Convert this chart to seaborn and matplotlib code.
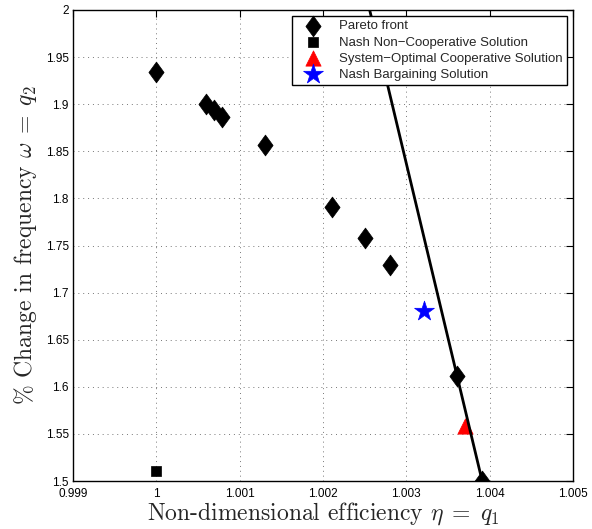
import numpy as np
import pandas as pd
import matplotlib
matplotlib.use("Agg")
import matplotlib.pyplot as plt
from matplotlib.path import Path
import seaborn as sns

# ---- data ----
pareto_x = [1.0000, 1.000597, 1.000693, 1.000789, 1.001305, 1.002109, 1.002505, 1.002805, 1.00361, 1.00391]
pareto_y = [1.934, 1.900, 1.894, 1.886, 1.857, 1.791, 1.758, 1.729, 1.611, 1.500]
nash_nc_x = [1.0000]
nash_nc_y = [1.511]
sys_opt_x = [1.003706]
sys_opt_y = [1.558]
nash_bs_x = [1.003214]
nash_bs_y = [1.680]
line_x = [1.00256, 1.00391]
line_y = [2.0, 1.5]
xticks = [0.999, 1.0, 1.001, 1.002, 1.003, 1.004, 1.005]
xtick_labels = ["0.999", "1", "1.001", "1.002", "1.003", "1.004", "1.005"]
yticks = [1.5, 1.55, 1.6, 1.65, 1.7, 1.75, 1.8, 1.85, 1.9, 1.95, 2.0]
ytick_labels = ["1.5", "1.55", "1.6", "1.65", "1.7", "1.75", "1.8", "1.85", "1.9", "1.95", "2"]
legend_labels = ["Pareto front", "Nash Non\u2212Cooperative Solution",
                 "System\u2212Optimal Cooperative Solution", "Nash Bargaining Solution"]

sns.set_style("white")
plt.rcParams["mathtext.fontset"] = "cm"
plt.rcParams["font.family"] = ["Liberation Sans", "DejaVu Sans"]

fig = plt.figure(figsize=(5.92, 5.29), dpi=100)
ax = fig.add_axes([73/592, 1 - 481/529, 500/592, 471/529])

diamond = Path([(0, 1), (0.73, 0), (0, -1), (-0.73, 0), (0, 1)],
               [Path.MOVETO, Path.LINETO, Path.LINETO, Path.LINETO, Path.CLOSEPOLY])

sns.lineplot(x=line_x, y=line_y, ax=ax, color="black", linewidth=2, zorder=4, sort=False)
sns.scatterplot(x=pareto_x, y=pareto_y, ax=ax, marker=diamond, s=15**2, color="black",
                edgecolor="black", linewidth=0.5, label=legend_labels[0], zorder=3)
sns.scatterplot(x=nash_nc_x, y=nash_nc_y, ax=ax, marker="s", s=7.5**2, color="black",
                edgecolor="black", linewidth=0.5, label=legend_labels[1], zorder=3)
sns.scatterplot(x=sys_opt_x, y=sys_opt_y, ax=ax, marker="^", s=11**2, color="red",
                edgecolor="red", linewidth=0.5, label=legend_labels[2], zorder=3)
sns.scatterplot(x=nash_bs_x, y=nash_bs_y, ax=ax, marker="*", s=15**2, color="blue",
                edgecolor="blue", linewidth=0.5, label=legend_labels[3], zorder=3)

ax.set_xlim(0.999, 1.005)
ax.set_ylim(1.5, 2.0)
ax.set_xticks(xticks)
ax.set_xticklabels(xtick_labels)
ax.set_yticks(yticks)
ax.set_yticklabels(ytick_labels)
ax.tick_params(direction="in", length=5, width=0.8, top=True, right=True,
               labelsize=8.5, colors="black")
ax.tick_params(axis="x", pad=5)
ax.tick_params(axis="y", pad=3)
ax.grid(True, linestyle=(0, (1, 4)), color="#777777", linewidth=0.7)
for sp in ax.spines.values():
    sp.set_visible(True)
    sp.set_color("black")
    sp.set_linewidth(1.0)

ax.set_xlabel(r"Non-dimensional efficiency $\eta\;=\;q_1$", family="cmr10", fontsize=17, labelpad=0)
ax.set_ylabel(r"% Change in frequency $\omega\;=\;q_2$", family="cmr10", fontsize=17, labelpad=5)

leg = ax.legend(loc="upper right", fontsize=9.5, frameon=True, fancybox=False,
                edgecolor="black", framealpha=1, borderpad=0.3, labelspacing=0.3,
                handlelength=2.6, handletextpad=0.7, borderaxespad=0,
                bbox_to_anchor=(0.988, 0.987))
leg.get_frame().set_linewidth(1.0)
leg.set_zorder(10)

fig.savefig("out.png", dpi=100)
